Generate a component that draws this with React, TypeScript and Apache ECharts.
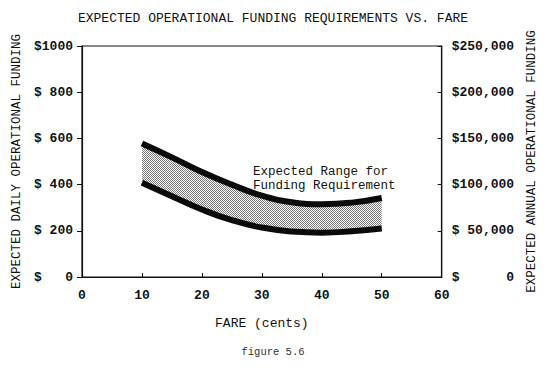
import React, { useEffect, useRef } from "react";
import * as echarts from "echarts";

const fares = [10, 15, 20, 25, 30, 35, 40, 45, 50];
const upperDaily = [578, 518, 455, 400, 352, 324, 315, 322, 342];
const lowerDaily = [408, 350, 292, 246, 214, 197, 192, 198, 210];
const xTicks = [0, 10, 20, 30, 40, 50, 60];
const leftTicks = [0, 200, 400, 600, 800, 1000];
const rightTicks = [0, 50000, 100000, 150000, 200000, 250000];

const MONO = "'Liberation Mono', 'DejaVu Sans Mono', monospace";
const NB = "\u00a0";

function makeStipple(): string {
  const c = document.createElement("canvas");
  c.width = 2;
  c.height = 2;
  const ctx = c.getContext("2d");
  if (ctx) {
    ctx.fillStyle = "#ffffff";
    ctx.fillRect(0, 0, 2, 2);
    ctx.fillStyle = "#7a7a7a";
    ctx.fillRect(0, 0, 1, 1);
    ctx.fillRect(1, 1, 1, 1);
  }
  return c.toDataURL();
}

export default function App() {
  const ref = useRef<HTMLDivElement>(null);
  useEffect(() => {
    if (!ref.current) return;
    const chart = echarts.init(ref.current, null, { renderer: "svg" });
    const lowerData = fares.map((f, i) => [f, lowerDaily[i]]);
    const upperData = fares.map((f, i) => [f, upperDaily[i]]);
    // value first so that stacking happens on the value (y) dimension
    const baseStack = fares.map((f, i) => [lowerDaily[i], f]);
    const bandStack = fares.map((f, i) => [upperDaily[i] - lowerDaily[i], f]);
    const stipple = makeStipple();
    chart.setOption({
      animation: false,
      backgroundColor: "#ffffff",
      title: {
        text: "EXPECTED OPERATIONAL FUNDING REQUIREMENTS VS. FARE",
        left: "center",
        top: 7,
        textStyle: { fontFamily: MONO, fontSize: 13, fontWeight: "normal", color: "#111" },
      },
      grid: {
        left: 82,
        right: 104,
        top: 46,
        bottom: 96,
        show: true,
        borderColor: "#111",
        borderWidth: 1.2,
        backgroundColor: "transparent",
      },
      xAxis: {
        type: "value",
        min: xTicks[0],
        max: xTicks[xTicks.length - 1],
        interval: 10,
        name: "FARE (cents)",
        nameLocation: "middle",
        nameGap: 40,
        nameTextStyle: { fontFamily: MONO, fontSize: 13, color: "#111" },
        axisLine: { show: true, lineStyle: { color: "#111", width: 1.2 } },
        axisTick: { show: true, inside: true, length: 4, lineStyle: { color: "#111" } },
        splitLine: { show: false },
        axisLabel: {
          margin: 12,
          fontFamily: MONO,
          fontSize: 13,
          fontWeight: "bold",
          color: "#111",
        },
      },
      yAxis: [
        {
          type: "value",
          min: leftTicks[0],
          max: leftTicks[leftTicks.length - 1],
          interval: 200,
          position: "left",
          name: "EXPECTED DAILY OPERATIONAL FUNDING",
          nameLocation: "middle",
          nameGap: 49,
          nameRotate: 90,
          nameTextStyle: { fontFamily: MONO, fontSize: 12.5, color: "#111" },
          axisLine: { show: true, lineStyle: { color: "#111", width: 1.2 } },
          axisTick: { show: true, length: 5, lineStyle: { color: "#111" } },
          splitLine: { show: false },
          axisLabel: {
            margin: 9,
            fontFamily: MONO,
            fontSize: 13,
            fontWeight: "bold",
            color: "#111",
            formatter: (v: number) =>
              v >= 1000 ? "$" + v : "$" + NB + String(v).padStart(3, NB),
          },
        },
        {
          type: "value",
          min: rightTicks[0],
          max: rightTicks[rightTicks.length - 1],
          interval: 50000,
          position: "right",
          name: "EXPECTED ANNUAL OPERATIONAL FUNDING",
          nameLocation: "middle",
          nameGap: 83,
          nameRotate: 90,
          nameTextStyle: { fontFamily: MONO, fontSize: 12.5, color: "#111" },
          axisLine: { show: true, lineStyle: { color: "#111", width: 1.2 } },
          axisTick: { show: true, inside: true, length: 4, lineStyle: { color: "#111" } },
          splitLine: { show: false },
          axisLabel: {
            margin: 10,
            fontFamily: MONO,
            fontSize: 13,
            fontWeight: "bold",
            color: "#111",
            formatter: (v: number) =>
              "$" + (v === 0 ? "0" : v.toLocaleString("en-US")).padStart(7, NB),
          },
        },
      ],
      series: [
        {
          type: "line",
          name: "base",
          data: baseStack,
          encode: { x: 1, y: 0 },
          stack: "band",
          smooth: true,
          showSymbol: false,
          lineStyle: { width: 0 },
          z: 1,
        },
        {
          type: "line",
          name: "range",
          data: bandStack,
          encode: { x: 1, y: 0 },
          stack: "band",
          smooth: true,
          showSymbol: false,
          lineStyle: { width: 0 },
          areaStyle: { color: { image: stipple, repeat: "repeat" }, opacity: 1 },
          z: 1,
        },
        {
          type: "line",
          name: "upper",
          data: upperData,
          smooth: true,
          showSymbol: false,
          lineStyle: { width: 6, color: "#0a0a0a", cap: "butt" },
          z: 3,
        },
        {
          type: "line",
          name: "lower",
          data: lowerData,
          smooth: true,
          showSymbol: false,
          lineStyle: { width: 6, color: "#0a0a0a", cap: "butt" },
          z: 3,
        },
      ],
      graphic: [
        {
          type: "text",
          left: 253,
          top: 165,
          style: {
            text: "Expected Range for\nFunding Requirement",
            fontFamily: MONO,
            fontSize: 12.5,
            lineHeight: 14,
            fill: "#111",
          },
        },
        {
          type: "text",
          left: "center",
          top: 346,
          style: {
            text: "figure 5.6",
            fontFamily: MONO,
            fontSize: 10.5,
            fill: "#333",
          },
        },
      ],
    });
    return () => chart.dispose();
  }, []);
  return <div ref={ref} style={{ width: 546, height: 373, margin: -8 }} />;
}
